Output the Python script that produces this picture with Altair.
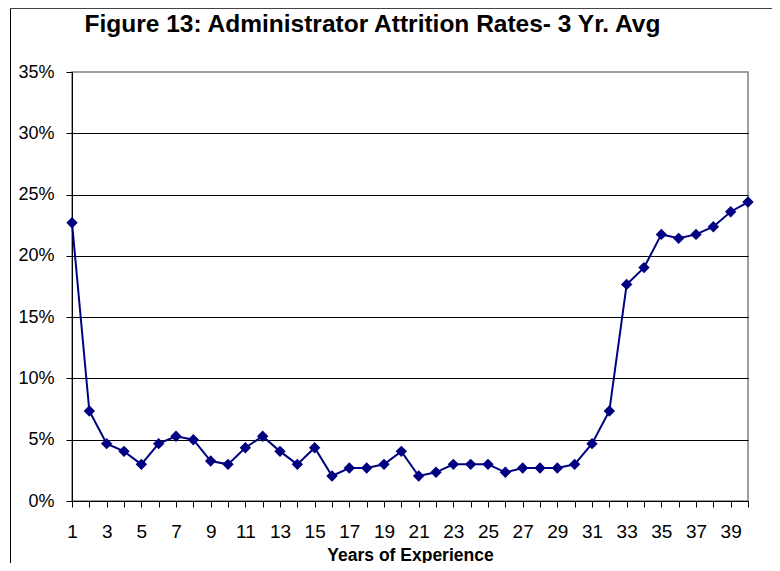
import altair as alt
import pandas as pd

years = list(range(1, 41))
rates = [0.227, 0.0734, 0.0468, 0.0405, 0.0299, 0.0468, 0.0528, 0.0500, 0.0326, 0.0299,
         0.0435, 0.0528, 0.0405, 0.0299, 0.0435, 0.0204, 0.0269, 0.0269, 0.0299, 0.0405,
         0.0204, 0.0234, 0.0299, 0.0299, 0.0299, 0.0234, 0.0269, 0.0269, 0.0269, 0.0299,
         0.0468, 0.0734, 0.1767, 0.1904, 0.2175, 0.2143, 0.2175, 0.2238, 0.2360, 0.2439]
y_ticks = [0, 0.05, 0.10, 0.15, 0.20, 0.25, 0.30, 0.35]
title_text = "Figure 13: Administrator Attrition Rates- 3 Yr. Avg"

df = pd.DataFrame({"year": years, "rate": rates})

FONT = "Liberation Sans"
NAVY = "#000080"

x_axis = alt.Axis(
    values=years,
    labelExpr="datum.value % 2 == 1 ? datum.label : ''",
    labelOverlap=False,
    title="Years of Experience",
    titleFont=FONT, titleFontSize=17.5, titleFontWeight="bold", titleColor="black",
    titleBaseline="alphabetic", titleY=59,
    labelFont=FONT, labelFontSize=19, labelColor="black",
    labelPadding=15, labelFlush=False,
    tickSize=6, tickColor="black", domainColor="black",
    grid=False,
)
y_axis = alt.Axis(
    values=y_ticks, format=".0%", title=None,
    labelFont=FONT, labelFontSize=18, labelColor="black",
    labelPadding=12, labelOverlap=False,
    tickSize=6, tickColor="black", domainColor="black",
    grid=True,
    gridColor={"condition": {"test": "datum.value >= 0.349", "value": "transparent"}, "value": "black"},
    gridWidth=1,
)
x_enc = alt.X("year:Q", scale=alt.Scale(domain=[1, 40], nice=False, zero=False), axis=x_axis)
y_enc = alt.Y("rate:Q", scale=alt.Scale(domain=[0, 0.35], nice=False), axis=y_axis)

line = alt.Chart(df).mark_line(color=NAVY, strokeWidth=2).encode(x=x_enc, y=y_enc)
pts = alt.Chart(df).mark_point(shape="diamond", filled=True, size=130, color=NAVY, opacity=1).encode(x=x_enc, y=y_enc)

one = alt.Data(values=[{"t": title_text}])
left_border = alt.Chart(one).mark_rule(color="black", strokeWidth=1).encode(
    x=alt.value(-61.5), y=alt.value(-64), y2=alt.value(491))
top_border = alt.Chart(one).mark_rule(color="#444444", strokeWidth=1).encode(
    x=alt.value(-62), x2=alt.value(700), y=alt.value(-63.5))
title = alt.Chart(one).mark_text(
    font=FONT, fontSize=24.5, fontWeight="bold", color="black",
    align="center", baseline="alphabetic",
).encode(text="t:N", x=alt.value(300.5), y=alt.value(-40.3))

chart = alt.layer(left_border, top_border, title, line, pts).properties(
    width=676, height=429,
    autosize=alt.AutoSizeParams(type="none"),
    padding={"left": 64, "top": 64, "right": 24, "bottom": 62},
).configure_view(stroke="#808080", strokeWidth=1.5).configure_axisX(labelOverlap=False)

chart.save("out.html", embed_options={"renderer": "svg", "actions": False})
